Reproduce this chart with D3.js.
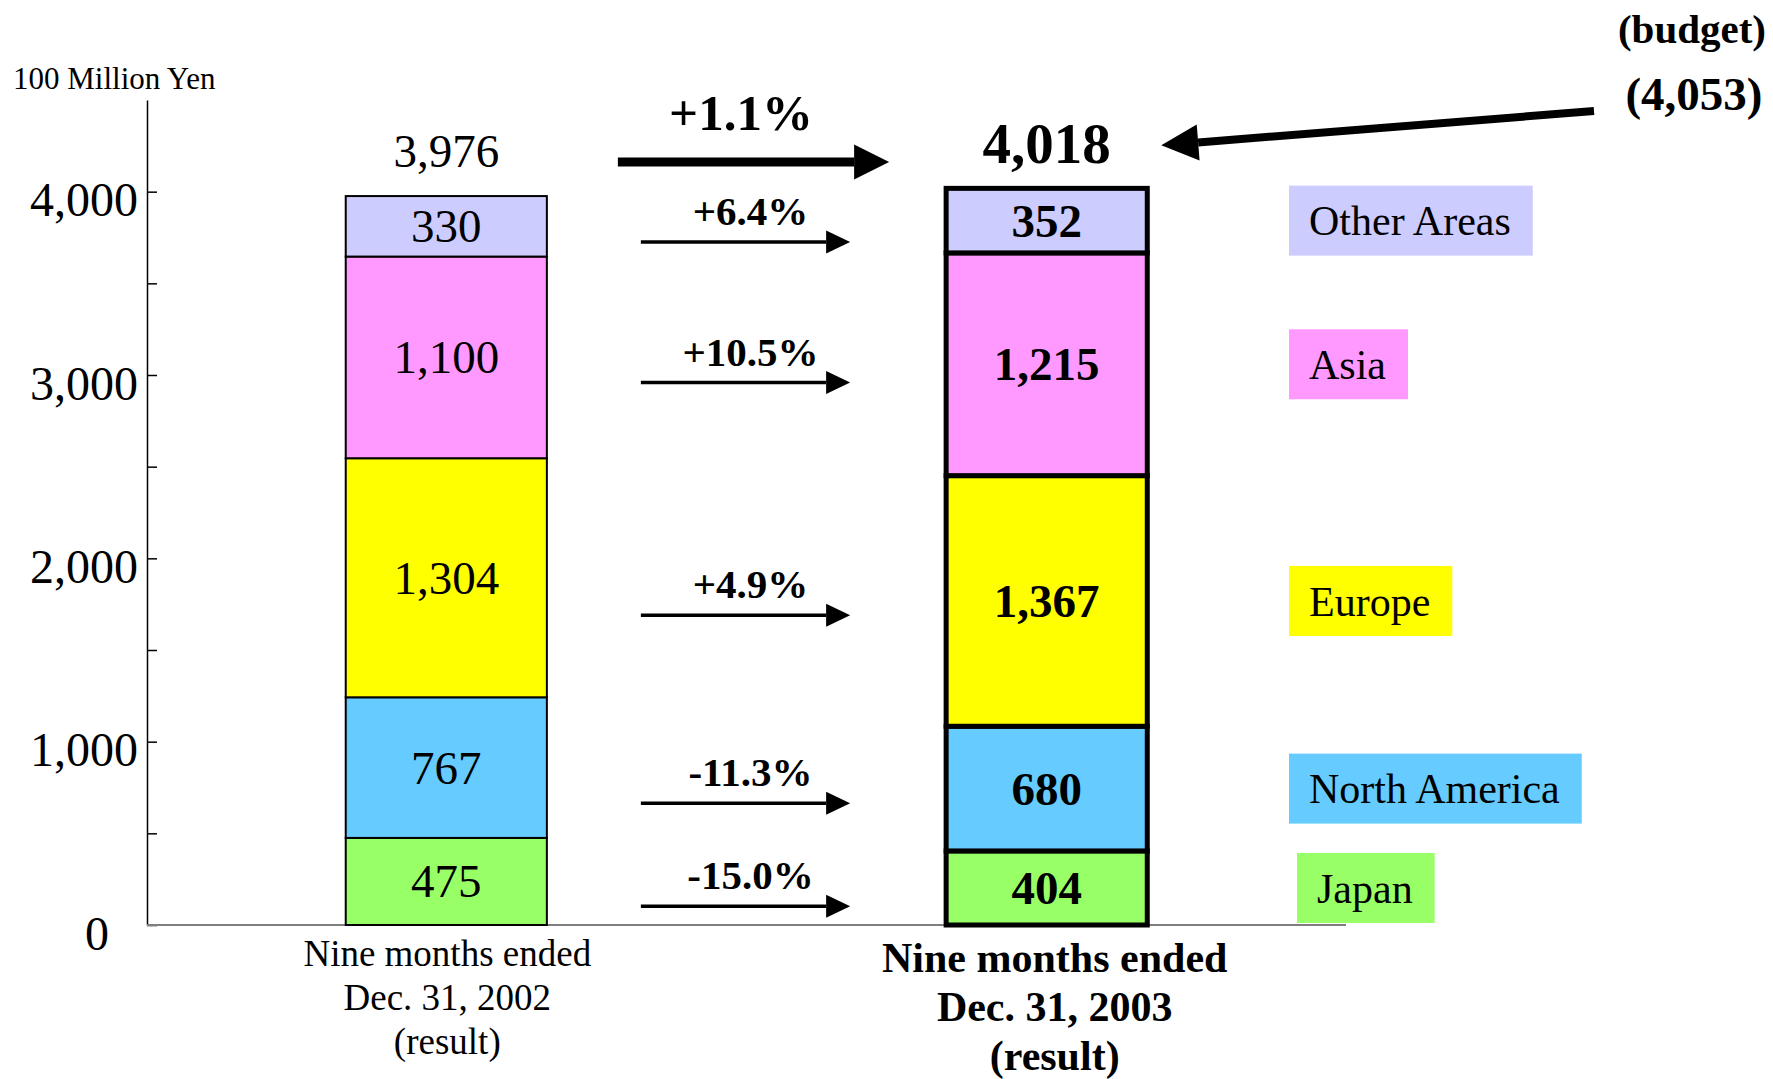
<!DOCTYPE html>
<html><head><meta charset="utf-8">
<script src="https://cdn.jsdelivr.net/npm/d3@7"></script>
<style>
body{margin:0;background:#fff}
text{font-family:"Liberation Serif","Times New Roman",serif;fill:#000}
</style>
</head><body><svg id="c" width="1773" height="1079"></svg>
<script>
// ---- data ----
const periods = ["2002", "2003"];
const periodLabels = [["Nine months ended", "Dec. 31, 2002", "(result)"],
                      ["Nine months ended", "Dec. 31, 2003", "(result)"]];
const regions = ["Japan", "North America", "Europe", "Asia", "Other Areas"];
const sales2002 = [475, 767, 1304, 1100, 330];
const sales2003 = [404, 680, 1367, 1215, 352];
const totals = [3976, 4018];
const regionChange = ["-15.0%", "-11.3%", "+4.9%", "+10.5%", "+6.4%"];
const totalChange = "+1.1%";
const budgetTotal = 4053;
const budgetLabel = "(budget)";
const regionColors = ["#99FF66", "#66CCFF", "#FFFF00", "#FF99FF", "#CCCCFF"];
const yTickValues = [0, 1000, 2000, 3000, 4000];
const yMinorTickValues = [0, 500, 1000, 1500, 2000, 2500, 3000, 3500, 4000];
const unitLabel = "100 Million Yen";

// ---- setup ----
const fmt = d3.format(",");
const svg = d3.select("#c");
svg.append("rect").attr("width", 1773).attr("height", 1079).attr("fill", "#fff");
const y = d3.scaleLinear().domain([0, 4500]).range([925, 100]);
const x = d3.scaleBand().domain(periods).range([147, 1346]).paddingInner(0.665).paddingOuter(0.331);
const bw = x.bandwidth();
const rows = periods.map((p, i) => {
  const o = {period: p};
  regions.forEach((r, j) => o[r] = (i ? sales2003 : sales2002)[j]);
  return o;
});
const series = d3.stack().keys(regions)(rows);

// ---- axes ----
const yAxisG = svg.append("g").attr("transform", "translate(147,0)")
  .call(d3.axisLeft(y).tickValues(yMinorTickValues).tickSize(-10).tickSizeOuter(0).tickFormat(""));
yAxisG.select(".domain").attr("stroke", "#000").attr("stroke-width", 1.5);
yAxisG.selectAll(".tick line").attr("stroke", "#000").attr("stroke-width", 1.5);

const yLab = svg.append("g").attr("transform", "translate(147,0)")
  .call(d3.axisLeft(y).tickValues(yTickValues).tickSize(0).tickPadding(9).tickFormat(fmt));
yLab.select(".domain").remove();
yLab.selectAll("text").attr("font-size", 48).attr("dy", "0.5em")
  .attr("font-family", '"Liberation Serif","Times New Roman",serif')
  .attr("dx", d => d === 0 ? -29 : 0);

svg.append("line").attr("x1", 147).attr("x2", x.range()[1]).attr("y1", y(0)).attr("y2", y(0))
  .attr("stroke", "#7f7f7f").attr("stroke-width", 2);

svg.append("text").attr("x", 13).attr("y", 89).attr("font-size", 31).text(unitLabel);

// ---- bars ----
series.forEach((s, j) => {
  s.forEach((d, i) => {
    svg.append("rect")
      .attr("x", x(d.data.period)).attr("y", y(d[1]))
      .attr("width", bw).attr("height", y(d[0]) - y(d[1]))
      .attr("fill", regionColors[j]).attr("stroke", "#000")
      .attr("stroke-width", i ? 5 : 2);
  });
});
// segment labels
series.forEach((s, j) => {
  s.forEach((d, i) => {
    svg.append("text")
      .attr("x", x(d.data.period) + bw / 2)
      .attr("y", (y(d[0]) + y(d[1])) / 2).attr("dy", "0.34em")
      .attr("text-anchor", "middle").attr("font-size", 47)
      .attr("font-weight", i ? "bold" : "normal")
      .text(fmt(d[1] - d[0]));
  });
});

// totals
svg.append("text").attr("x", x(periods[0]) + bw / 2).attr("y", y(totals[0]) - 29)
  .attr("text-anchor", "middle").attr("font-size", 47).text(fmt(totals[0]));
svg.append("text").attr("x", x(periods[1]) + bw / 2).attr("y", y(totals[1]) - 25)
  .attr("text-anchor", "middle").attr("font-size", 57).attr("font-weight", "bold").text(fmt(totals[1]));

// ---- arrows ----
function arrow(x1, y1, x2, y2, w, hl, hw) {
  const a = Math.atan2(y2 - y1, x2 - x1);
  const bx = x2 - hl * Math.cos(a), by = y2 - hl * Math.sin(a);
  svg.append("line").attr("x1", x1).attr("y1", y1).attr("x2", bx).attr("y2", by)
    .attr("stroke", "#000").attr("stroke-width", w);
  const px = -Math.sin(a) * hw / 2, py = Math.cos(a) * hw / 2;
  svg.append("path").attr("d", `M${x2},${y2}L${bx + px},${by + py}L${bx - px},${by - py}Z`).attr("fill", "#000");
}
const gapL = x(periods[0]) + bw, gapR = x(periods[1]);

// total change arrow
const bigY = y(totals[0]) - 34;
arrow(gapL + 71, bigY, gapR - 57, bigY, 9, 35, 35);
svg.append("text").attr("x", 741).attr("y", bigY - 32).attr("text-anchor", "middle")
  .attr("font-size", 51).attr("font-weight", "bold").text(totalChange);

// region change arrows
regions.forEach((r, j) => {
  const s = series[j];
  const lm = (y(s[0][0]) + y(s[0][1])) / 2, rm = (y(s[1][0]) + y(s[1][1])) / 2;
  const ay = (lm + 3 * rm) / 4 + 20;
  arrow(gapL + 94, ay, gapR - 96, ay, 3.5, 24, 23);
  svg.append("text").attr("x", (gapL + gapR) / 2 + 4).attr("y", ay - 17).attr("text-anchor", "middle")
    .attr("font-size", 41).attr("font-weight", "bold").text(regionChange[j]);
});

// budget
svg.append("text").attr("x", 1692).attr("y", 43).attr("text-anchor", "middle")
  .attr("font-size", 41).attr("font-weight", "bold").text(budgetLabel);
svg.append("text").attr("x", 1694).attr("y", 110).attr("text-anchor", "middle")
  .attr("font-size", 47).attr("font-weight", "bold").text("(" + fmt(budgetTotal) + ")");
arrow(1594, 111, x(periods[1]) + bw + 14, y(totals[1]) - 43, 8, 37, 36);

// ---- legend boxes ----
regions.forEach((r, j) => {
  const s = series[j];
  const cy = (y(s[1][0]) + y(s[1][1])) / 2;
  const bx = j === 0 ? 1297 : 1289;
  const g = svg.append("g");
  const rect = g.append("rect").attr("x", bx).attr("y", cy - 35).attr("height", 70).attr("fill", regionColors[j]);
  const t = g.append("text").attr("x", bx + 20).attr("y", cy).attr("dy", "0.35em").attr("font-size", 42).text(r);
  rect.attr("width", t.node().getComputedTextLength() + 42);
});

// ---- category labels ----
periods.forEach((p, i) => {
  const t = svg.append("text").attr("text-anchor", "middle")
    .attr("font-size", i ? 42 : 37).attr("font-weight", i ? "bold" : "normal");
  periodLabels[i].forEach((line, k) => {
    t.append("tspan").attr("x", x(p) + bw / 2 + (i ? 8 : 1))
      .attr("y", i ? 972 + k * 49 : 966 + k * 44).text(line);
  });
});
</script>
</body></html>
